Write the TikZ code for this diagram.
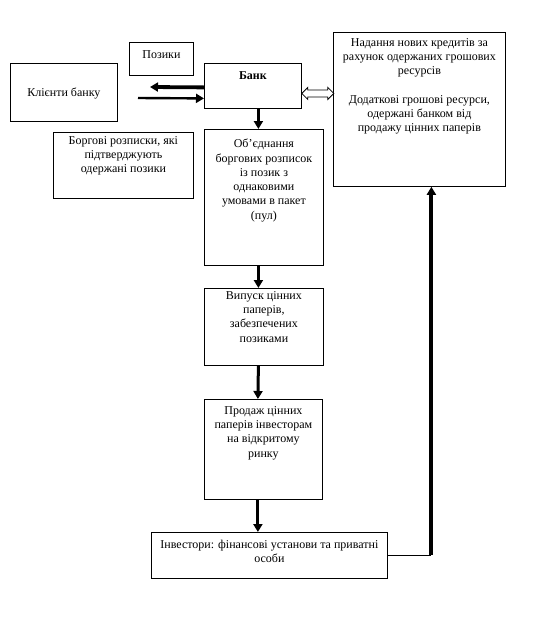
\documentclass[tikz,border=0pt]{standalone}
\usepackage{fontspec}
\setmainfont{Liberation Serif}
\usetikzlibrary{arrows.meta}

\begin{document}
\begin{tikzpicture}[x=1pt, y=-1pt,
  box/.style={draw, line width=0.8pt, anchor=north west, inner sep=0pt},
  txt/.style={anchor=north, align=center, inner sep=0pt, font=\fontsize{12}{14.3}\selectfont},
  arr/.style={-{Triangle[length=8pt, width=9pt]}, line width=3pt},
  dbl/.style={draw, line width=0.8pt, fill=white, line join=miter}
]
\useasboundingbox (0,0) rectangle (548,619);

% left part
\node[box, minimum width=64pt, minimum height=33pt,
  label={[txt, yshift=-8pt]north:Позики}] (loans) at (129,42) {};
\node[box, minimum width=107pt, minimum height=58pt,
  label={[txt, yshift=-25pt]north:Клієнти банку}] (clients) at (10,63) {};
\node[box, minimum width=140pt, minimum height=66pt,
  label={[txt, yshift=-4pt]north:{Боргові розписки, які\\підтверджують\\одержані позики}}] (notes) at (53,132) {};

% bank and the chain below it
\node[box, minimum width=97pt, minimum height=45pt,
  label={[txt, yshift=-8pt]north:\textbf{Банк}}] (bank) at (204,63) {};
\node[box, minimum width=119pt, minimum height=136pt,
  label={[txt, yshift=-10pt]north:{Об’єднання\\боргових розписок\\із позик з\\однаковими\\умовами в пакет\\(пул)}}] (pool) at (204,129) {};
\node[box, minimum width=119pt, minimum height=77pt,
  label={[txt, yshift=-3pt]north:{Випуск цінних\\паперів,\\забезпечених\\позиками}}] (issue) at (204,288) {};
\node[box, minimum width=118pt, minimum height=100pt,
  label={[txt, yshift=-7pt]north:{Продаж цінних\\паперів інвесторам\\на відкритому\\ринку}}] (sale) at (204,399) {};
\node[box, minimum width=236pt, minimum height=46pt,
  label={[txt, yshift=-8pt]north:{Інвестори: фінансові установи та приватні\\особи}}] (inv) at (151,532) {};

% right part
\node[box, minimum width=172pt, minimum height=154pt,
  label={[txt, yshift=-6pt]north:{Надання нових кредитів за\\рахунок одержаних грошових\\ресурсів\\[14.3pt]Додаткові грошові ресурси,\\одержані банком від\\продажу цінних паперів}}] (res) at (333,32) {};

% connectors
\coordinate (loanend) at (150,87);
\coordinate (notestart) at (138,98);
\draw[arr, line width=3.8pt] ([yshift=-1.5pt]bank.west) -- (loanend);
\draw[arr, line width=2.4pt] (notestart) -- ([yshift=-12.5pt]bank.west);
% hollow two-way arrow bank <-> resources
\draw[dbl] ([yshift=-7.5pt]bank.east) -- ++(6,-6) -- ++(0,2.5) -- ++(20,0) -- ++(0,-2.5)
  -- ++(6,6) -- ++(-6,6) -- ++(0,-2.5) -- ++(-20,0) -- ++(0,2.5) -- cycle;

\draw[arr] ([xshift=5.5pt]bank.south) -- ([xshift=5.5pt]bank.south |- pool.north);
\draw[arr] ([xshift=-5.5pt]pool.south) -- ([xshift=-5.5pt]issue.north);
\draw[arr] ([xshift=-5.5pt]issue.south) -- ([xshift=-5.5pt]sale.north);
\draw[arr] ([xshift=-5.5pt]sale.south) -- ([xshift=-5.5pt]sale.south |- inv.north);

\coordinate (turn) at ([xshift=12pt]res.south |- inv.east);
\draw[line width=0.8pt] (inv.east) -- (turn);
\draw[arr, line width=4pt] (turn) -- ([xshift=12pt]res.south);
\end{tikzpicture}
\end{document}
